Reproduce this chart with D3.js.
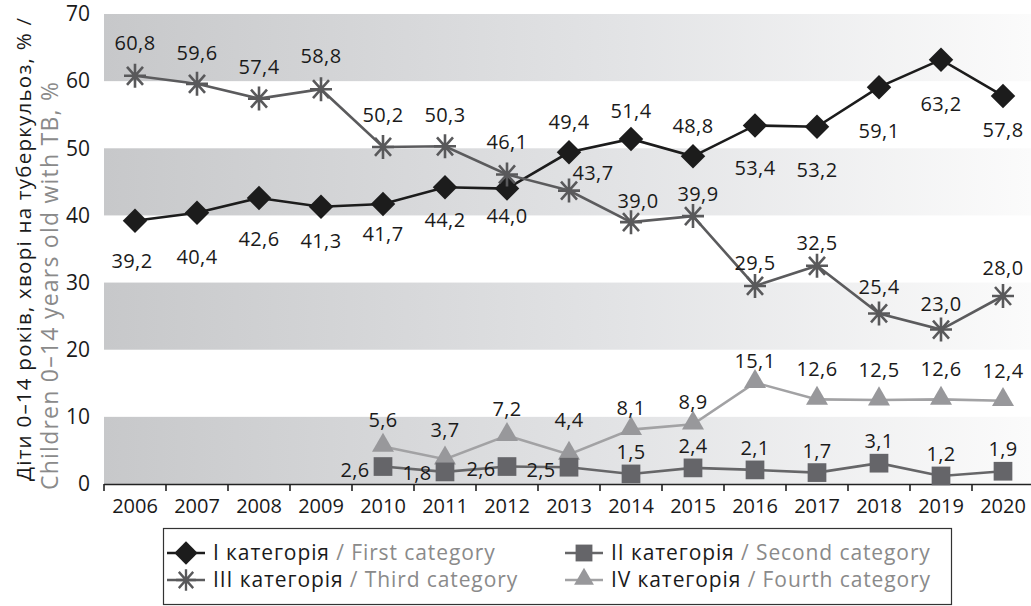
<!DOCTYPE html>
<html lang="uk">
<head>
<meta charset="utf-8">
<script src="https://d3js.org/d3.v7.min.js"></script>
<style>
  body { margin: 0; background: #fff; }
  svg text { font-family: "Open Sans", "Noto Sans", sans-serif; }
</style>
</head>
<body>
<div id="chart"></div>
<script>

// --- data ---
const years = ["2006","2007","2008","2009","2010","2011","2012","2013","2014","2015","2016","2017","2018","2019","2020"];
const lateYears = ["2010","2011","2012","2013","2014","2015","2016","2017","2018","2019","2020"];

const firstCat  = [39.2, 40.4, 42.6, 41.3, 41.7, 44.2, 44.0, 49.4, 51.4, 48.8, 53.4, 53.2, 59.1, 63.2, 57.8];
const thirdCat  = [60.8, 59.6, 57.4, 58.8, 50.2, 50.3, 46.1, 43.7, 39.0, 39.9, 29.5, 32.5, 25.4, 23.0, 28.0];
const secondCat = [2.6, 1.8, 2.6, 2.5, 1.5, 2.4, 2.1, 1.7, 3.1, 1.2, 1.9];
const fourthCat = [5.6, 3.7, 7.2, 4.4, 8.1, 8.9, 15.1, 12.6, 12.5, 12.6, 12.4];

const yTicks = [0, 10, 20, 30, 40, 50, 60, 70];
const shadedBands = [[0, 10], [20, 30], [40, 50], [60, 70]];

// where each value label sits relative to its point [dx, dy]
const firstLabelPos  = [[-3,40],[0,44],[0,41],[0,34],[0,30],[0,33],[0,27],[0,-30],[0,-28],[0,-30],[0,43],[0,43],[0,44],[0,44],[0,34]];
const thirdLabelPos  = [[0,-33],[0,-31],[0,-32],[0,-33],[0,-32],[0,-31],[0,-32],[24,-18],[7,-21],[5,-22],[0,-23],[0,-23],[0,-26],[0,-26],[0,-28]];
const secondLabelPos = [[-28,3],[-28,1],[-26,2],[-28,3],[0,-22],[0,-22],[0,-22],[0,-22],[0,-22],[0,-22],[0,-22]];
const fourthLabelPos = [[0,-26],[0,-29],[0,-27],[0,-34],[0,-22],[0,-22],[0,-22],[0,-30],[0,-30],[0,-30],[0,-30]];

const W = 1031, H = 606;
const plotLeft = 104, plotRight = 1034, plotTop = 14, plotBottom = 484;

const svg = d3.select("#chart").append("svg")
  .attr("width", W).attr("height", H);

const x = d3.scaleBand().domain(years).range([plotLeft, plotRight]).padding(0);
const y = d3.scaleLinear().domain([0, 70]).range([plotBottom, plotTop]);
const cx = d => x(d) + x.bandwidth() / 2;

// horizontal fade for the shaded bands
const grad = svg.append("defs").append("linearGradient")
  .attr("id", "bandFade")
  .attr("gradientUnits", "userSpaceOnUse")
  .attr("x1", plotLeft).attr("x2", W).attr("y1", 0).attr("y2", 0);
grad.append("stop").attr("offset", "0%").attr("stop-color", "#c7c8ca");
grad.append("stop").attr("offset", "55%").attr("stop-color", "#e2e3e5");
grad.append("stop").attr("offset", "100%").attr("stop-color", "#fbfbfb");

svg.append("g").selectAll("rect")
  .data(shadedBands)
  .join("rect")
    .attr("x", plotLeft)
    .attr("width", W - plotLeft)
    .attr("y", d => y(d[1]))
    .attr("height", d => y(d[0]) - y(d[1]))
    .attr("fill", "url(#bandFade)");

// y axis: labels only
const yAxis = svg.append("g")
  .attr("transform", `translate(${plotLeft - 14},0)`)
  .call(d3.axisLeft(y).tickValues(yTicks).tickSize(0).tickPadding(0));
yAxis.select(".domain").remove();
yAxis.selectAll("text")
  .attr("font-size", 21)
  .attr("fill", "#1a1a1a")
  .attr("font-family", "Open Sans");

// x axis, ticks between the years
const xAxis = svg.append("g")
  .attr("transform", `translate(0,${plotBottom})`)
  .call(d3.axisBottom(x).tickSizeOuter(0).tickSizeInner(7).tickPadding(8));
xAxis.select(".domain")
  .attr("d", `M${plotLeft},0.5H${W}`)
  .attr("stroke", "#222").attr("stroke-width", 1.6);
xAxis.selectAll(".tick line")
  .attr("x1", -x.bandwidth() / 2).attr("x2", -x.bandwidth() / 2)
  .attr("stroke", "#222").attr("stroke-width", 1.6);
xAxis.selectAll("text")
  .attr("font-size", 20)
  .attr("fill", "#1a1a1a")
  .attr("font-family", "Open Sans");

// y axis title (two lines, left aligned at the bottom)
svg.append("text")
  .attr("transform", "translate(31,481) rotate(-90)")
  .attr("font-size", 20.5)
  .attr("fill", "#1a1a1a")
  .attr("textLength", 463)
  .attr("lengthAdjust", "spacing")
  .text("Діти 0–14 років, хворі на туберкульоз, % /");
svg.append("text")
  .attr("transform", "translate(58,490) rotate(-90)")
  .attr("font-size", 23)
  .attr("fill", "#8a8a8a")
  .attr("textLength", 408)
  .attr("lengthAdjust", "spacing")
  .text("Children 0–14 years old with TB, %");

// marker shapes
const diamondPath  = d3.symbol().type(d3.symbolSquare).size(300)();
const squarePath   = d3.symbol().type(d3.symbolSquare).size(350)();
const trianglePath = d3.symbol().type(d3.symbolTriangle).size(210)();
const asteriskPath = "M0,-12V12M-11,0H11M-8,-9L8,9M-8,9L8,-9";

const series = [
  { name: "first",  yrs: years,     vals: firstCat,  lbl: firstLabelPos,  line: "#1c1c1c", mark: "diamond" },
  { name: "third",  yrs: years,     vals: thirdCat,  lbl: thirdLabelPos,  line: "#5b5b5d", mark: "asterisk" },
  { name: "fourth", yrs: lateYears, vals: fourthCat, lbl: fourthLabelPos, line: "#a2a2a4", mark: "triangle" },
  { name: "second", yrs: lateYears, vals: secondCat, lbl: secondLabelPos, line: "#666668", mark: "square" }
];

function drawMarker(sel, kind) {
  if (kind === "diamond") {
    sel.append("path").attr("d", diamondPath).attr("transform", "rotate(45)").attr("fill", "#1c1c1c");
  } else if (kind === "square") {
    sel.append("path").attr("d", squarePath).attr("fill", "#656569");
  } else if (kind === "triangle") {
    sel.append("path").attr("d", trianglePath).attr("transform", "translate(0,-1)").attr("fill", "#98989b");
  } else {
    sel.append("path").attr("d", asteriskPath).attr("fill", "none")
      .attr("stroke", "#59595b").attr("stroke-width", 2.6);
  }
}

const fmt = v => v.toFixed(1).replace(".", ",");

series.forEach(s => {
  const pts = s.yrs.map((yr, i) => ({ yr, v: s.vals[i], off: s.lbl[i] }));
  const g = svg.append("g").attr("class", "series-" + s.name);

  g.append("path")
    .datum(pts)
    .attr("fill", "none")
    .attr("stroke", s.line)
    .attr("stroke-width", 2.6)
    .attr("d", d3.line().x(d => cx(d.yr)).y(d => y(d.v)));

  g.selectAll("g.mk")
    .data(pts)
    .join("g")
      .attr("class", "mk")
      .attr("transform", d => `translate(${cx(d.yr)},${y(d.v)})`)
      .each(function() { drawMarker(d3.select(this), s.mark); });
});

// value labels on top of everything
series.forEach(s => {
  const pts = s.yrs.map((yr, i) => ({ yr, v: s.vals[i], off: s.lbl[i] }));
  svg.append("g").selectAll("text")
    .data(pts)
    .join("text")
      .attr("x", d => cx(d.yr) + d.off[0])
      .attr("y", d => y(d.v) + d.off[1])
      .attr("dy", "0.35em")
      .attr("text-anchor", "middle")
      .attr("font-size", 20)
      .attr("letter-spacing", 0.4)
      .attr("fill", "#1a1a1a")
      .text(d => fmt(d.v));
});

// legend
const legendItems = [
  { ua: "I категорія",   en: "First category",  line: "#1c1c1c", mark: "diamond",  col: 0, row: 0 },
  { ua: "II категорія",  en: "Second category", line: "#666668", mark: "square",   col: 1, row: 0 },
  { ua: "III категорія", en: "Third category",  line: "#5b5b5d", mark: "asterisk", col: 0, row: 1 },
  { ua: "IV категорія",  en: "Fourth category", line: "#a2a2a4", mark: "triangle", col: 1, row: 1 }
];

const legend = svg.append("g");
legend.append("rect")
  .attr("x", 163.5).attr("y", 528.5)
  .attr("width", 788).attr("height", 76)
  .attr("fill", "#fff").attr("stroke", "#333").attr("stroke-width", 1.2);

const colX = [186, 584], rowY = [553, 580];
const li = legend.selectAll("g.li")
  .data(legendItems)
  .join("g")
    .attr("class", "li")
    .attr("transform", d => `translate(${colX[d.col]},${rowY[d.row]})`);
li.append("line")
  .attr("x1", -19).attr("x2", 19)
  .attr("stroke", d => d.line).attr("stroke-width", 2.6);
li.each(function(d) {
  const m = d3.select(this).append("g").attr("transform", d.mark === "diamond" ? "scale(0.95)" : "scale(0.9)");
  drawMarker(m, d.mark);
});
const lt = li.append("text")
  .attr("x", 27)
  .attr("dy", "0.35em")
  .attr("font-size", 21)
  .attr("letter-spacing", 0.9);
lt.append("tspan").attr("fill", "#1a1a1a").text(d => d.ua);
lt.append("tspan").attr("fill", "#8a8a8a").text(d => " / " + d.en);

</script>
</body>
</html>
